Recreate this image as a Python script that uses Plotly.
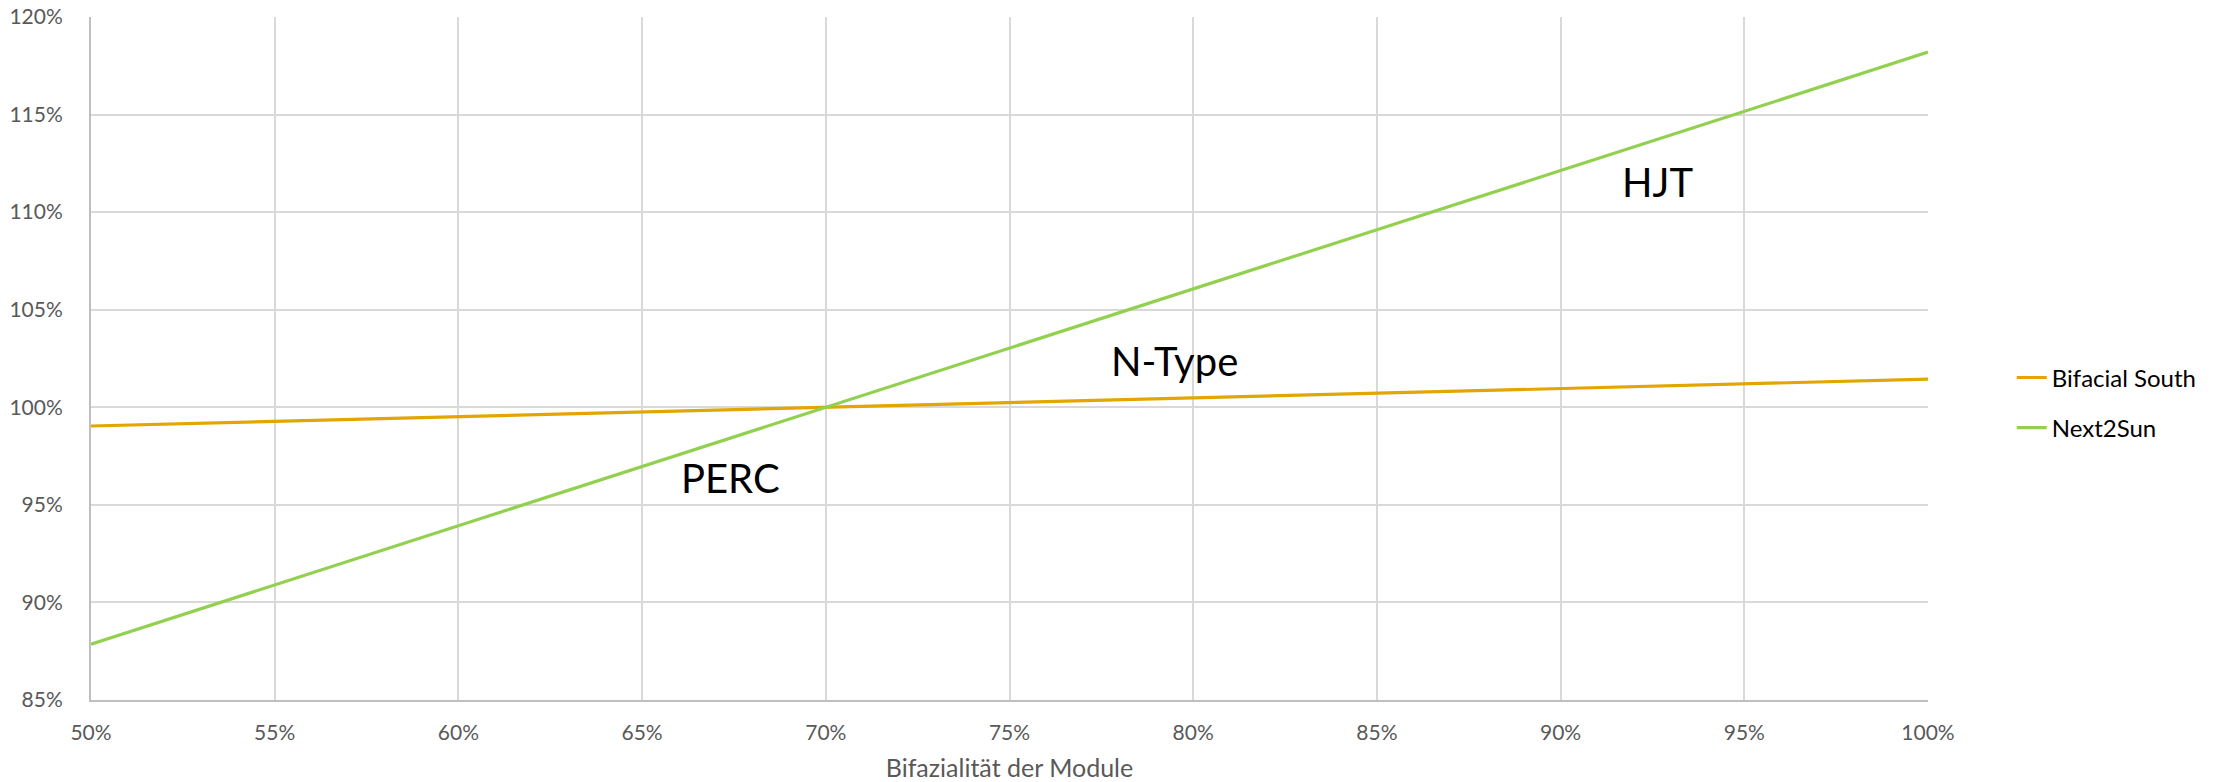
import plotly.graph_objects as go

bifaciality = [0.50, 0.55, 0.60, 0.65, 0.70, 0.75, 0.80, 0.85, 0.90, 0.95, 1.00]
bifacial_south = [0.9904, 0.9928, 0.9952, 0.9976, 1.0000, 1.0024, 1.0048, 1.0072, 1.0096, 1.0120, 1.0144]
next2sun = [0.8786, 0.9090, 0.9393, 0.9696, 1.0000, 1.0303, 1.0607, 1.0910, 1.1213, 1.1517, 1.1820]

labels = ["HJT", "N-Type", "PERC"]
label_x = [0.9265, 0.795, 0.674]
label_y = [1.1155, 1.0237, 0.9637]

FONT = "Lato, Carlito, 'Open Sans', sans-serif"

fig = go.Figure()
fig.add_trace(go.Scatter(x=bifaciality, y=bifacial_south, mode="lines", name="Bifacial South",
                         legendgroup="a", line=dict(color="#E3A600", width=3.2)))
fig.add_trace(go.Scatter(x=bifaciality, y=next2sun, mode="lines", name="Next2Sun",
                         legendgroup="b", line=dict(color="#92D050", width=3.2)))

for t, x, y in zip(labels, label_x, label_y):
    fig.add_annotation(x=x, y=y, text=t, showarrow=False, xref="x", yref="y",
                       font=dict(family=FONT, size=40, color="#000000"))

fig.update_layout(
    width=2224, height=782,
    margin=dict(l=91, r=296, t=17, b=82, autoexpand=False),
    paper_bgcolor="white", plot_bgcolor="white",
    font=dict(family=FONT, size=21, color="#595959"),
    legend=dict(x=1.0456, y=0.435, xanchor="left", yanchor="middle",
                font=dict(family=FONT, size=24, color="#000000"),
                bgcolor="rgba(0,0,0,0)", tracegroupgap=16),
    xaxis=dict(range=[0.5, 1.0], dtick=0.05, tick0=0.5, tickformat=".0%",
               showgrid=True, gridcolor="#D9D9D9", gridwidth=1.5,
               showline=True, linecolor="#BFBFBF", linewidth=2, mirror=False,
               zeroline=False, ticks="", ticklabelstandoff=13, automargin=False,
               tickfont=dict(size=21, color="#595959"),
               title=dict(text="Bifazialität der Module", standoff=24,
                          font=dict(size=25, color="#595959"))),
    yaxis=dict(range=[0.85, 1.20], dtick=0.05, tick0=0.85, tickformat=".0%",
               showgrid=True, gridcolor="#D9D9D9", gridwidth=1.5,
               showline=True, linecolor="#BFBFBF", linewidth=2, automargin=False,
               zeroline=False, ticks="", ticklabelstandoff=22,
               tickfont=dict(size=21, color="#595959")),
)

fig.write_html("out.html")
